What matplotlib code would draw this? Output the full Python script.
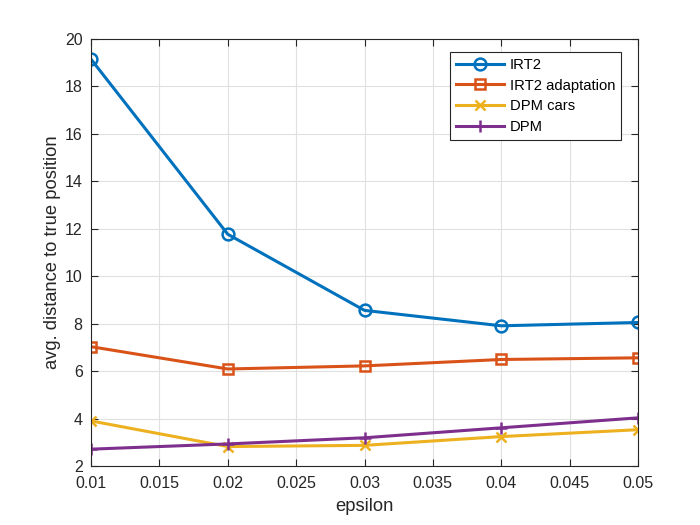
import numpy as np
import matplotlib.pyplot as plt

plt.rcParams['font.family'] = ['Liberation Sans', 'DejaVu Sans']
plt.rcParams['font.size'] = 11.5

# data
epsilon = [0.01, 0.02, 0.03, 0.04, 0.05]
irt2 = [19.15, 11.77, 8.56, 7.91, 8.05]
irt2_adapt = [7.03, 6.09, 6.22, 6.49, 6.56]
dpm_cars = [3.90, 2.82, 2.87, 3.24, 3.53]
dpm = [2.71, 2.93, 3.19, 3.61, 4.03]

labels = ['IRT2', 'IRT2 adaptation', 'DPM cars', 'DPM']
colors = ['#0072BD', '#D95319', '#EDB120', '#7E2F8E']
markers = ['o', 's', 'x', '+']
msizes = [8.5, 6.5, 6.5, 8]

fig = plt.figure(figsize=(7, 5.25), dpi=100)
ax = fig.add_axes([91/700, 1 - 466/525, 547/700, 427/525])

for ys, lab, c, m, ms in zip([irt2, irt2_adapt, dpm_cars, dpm], labels, colors, markers, msizes):
    ax.plot(epsilon, ys, color=c, marker=m, lw=2.2, ms=ms, mew=1.8,
            mfc='none' if m in ('o', 's') else c, label=lab)

ax.set_xlim(0.01, 0.05)
ax.set_ylim(2, 20)
ax.set_xticks(np.arange(0.01, 0.0501, 0.005))
ax.set_xticklabels(['0.01', '0.015', '0.02', '0.025', '0.03', '0.035', '0.04', '0.045', '0.05'])
ax.set_yticks(np.arange(2, 21, 2))
ax.grid(True, color='#e0e0e0', lw=0.8)
ax.set_axisbelow(True)
ax.tick_params(direction='in', top=True, right=True, colors='#262626', labelsize=11.5, length=5)
ax.tick_params(axis='x', pad=7)
ax.tick_params(axis='y', pad=6)
for s in ax.spines.values():
    s.set_color('#262626')
    s.set_linewidth(0.8)

ax.set_xlabel('epsilon', color='#262626', fontsize=13.2, labelpad=5)
ax.set_ylabel('avg. distance to true position', color='#262626', fontsize=13.2, labelpad=3)

leg = ax.legend(loc='upper right', bbox_to_anchor=(621/700, 1 - 52/525),
                bbox_transform=fig.transFigure, borderaxespad=0, fancybox=False,
                framealpha=1, edgecolor='#262626', handlelength=3.3, handletextpad=0.35,
                borderpad=0.4, labelspacing=0.45, fontsize=10.6)
leg.get_frame().set_linewidth(0.8)

fig.savefig('out.png', dpi=100)
